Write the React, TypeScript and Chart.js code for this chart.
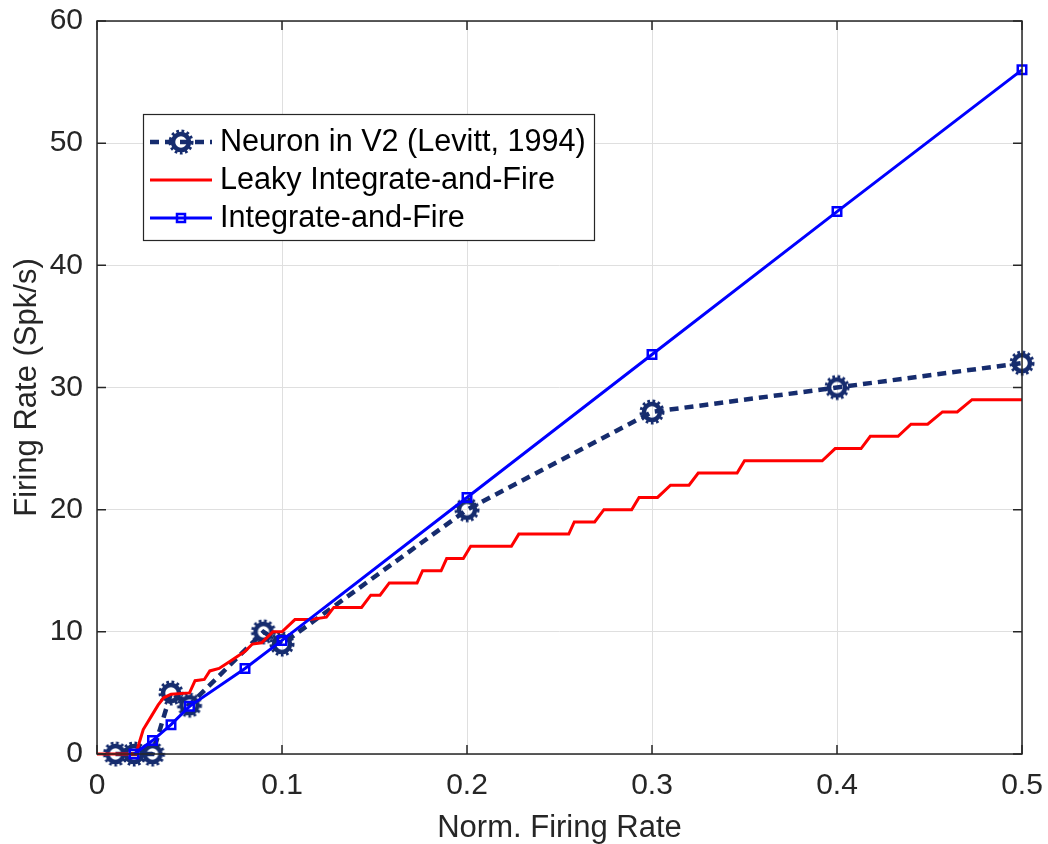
import React, { useEffect, useRef } from "react";
import { Chart, registerables } from "chart.js";

Chart.register(...registerables);

// ---- data ----
const xTickValues = [0, 0.1, 0.2, 0.3, 0.4, 0.5];
const xTickLabels = ["0", "0.1", "0.2", "0.3", "0.4", "0.5"];
const yTickValues = [0, 10, 20, 30, 40, 50, 60];
const yTickLabels = ["0", "10", "20", "30", "40", "50", "60"];
const seriesNames = ["Neuron in V2 (Levitt, 1994)", "Leaky Integrate-and-Fire", "Integrate-and-Fire"];
const xTitle = "Norm. Firing Rate";
const yTitle = "Firing Rate (Spk/s)";

const neuronX = [0.01, 0.02, 0.03, 0.04, 0.05, 0.09, 0.1, 0.2, 0.3, 0.4, 0.5];
const neuronY = [0, 0, 0, 5, 4, 10, 9, 20, 28, 30, 32];

const lifX = [0, 0.021, 0.023, 0.025, 0.029, 0.033, 0.036, 0.04, 0.05, 0.053, 0.058, 0.061, 0.066, 0.072, 0.076, 0.08, 0.084, 0.089, 0.095, 0.1, 0.107, 0.115, 0.124, 0.128, 0.143, 0.148, 0.153, 0.158, 0.173, 0.176, 0.186, 0.189, 0.198, 0.202, 0.224, 0.228, 0.255, 0.258, 0.269, 0.274, 0.289, 0.293, 0.303, 0.31, 0.32, 0.325, 0.346, 0.35, 0.392, 0.399, 0.413, 0.418, 0.433, 0.44, 0.449, 0.457, 0.465, 0.473, 0.5];
const lifY = [0, 0, 1, 2, 3, 4, 4.6, 4.9, 5, 6, 6.1, 6.8, 7, 7.6, 8, 8.4, 9, 9.1, 10, 10, 11, 11, 11.2, 12, 12, 13, 13, 14, 14, 15, 15, 16, 16, 17, 17, 18, 18, 19, 19, 20, 20, 21, 21, 22, 22, 23, 23, 24, 24, 25, 25, 26, 26, 27, 27, 28, 28, 29, 29];

const ifX = [0.02, 0.03, 0.04, 0.05, 0.08, 0.1, 0.2, 0.3, 0.4, 0.5];
const ifY = [0, 1.1, 2.4, 3.9, 7, 9.3, 21, 32.7, 44.4, 56];

// ---- styles ----
const NAVY = "rgb(22,44,110)";
const RED = "#ff0000";
const BLUE = "#0000ff";
const AXIS = "#262626";
const FONT = "'Liberation Sans', Arial, Helvetica, sans-serif";

const toPoints = (xs: number[], ys: number[]) => xs.map((x, i) => ({ x, y: ys[i] }));

function makeGear(): HTMLCanvasElement {
  const c = document.createElement("canvas");
  c.width = 32;
  c.height = 32;
  const g = c.getContext("2d")!;
  g.strokeStyle = NAVY;
  g.lineWidth = 4.5;
  g.beginPath();
  g.arc(16, 16, 8, 0, Math.PI * 2);
  g.stroke();
  g.lineWidth = 3;
  g.setLineDash([2.7, 2.5]);
  g.beginPath();
  g.arc(16, 16, 11, 0, Math.PI * 2);
  g.stroke();
  return c;
}

export default function App() {
  const ref = useRef<HTMLCanvasElement | null>(null);

  useEffect(() => {
    if (!ref.current) return;
    const gear = makeGear();

    const frame = {
      id: "frame",
      afterDraw(chart: any) {
        const ctx = chart.ctx;
        const { left, right, top, bottom } = chart.chartArea;
        const xs = chart.scales.x;
        const ys = chart.scales.y;
        ctx.save();
        ctx.strokeStyle = AXIS;
        ctx.lineWidth = 1.5;
        ctx.strokeRect(left, top, right - left, bottom - top);
        ctx.beginPath();
        const tl = 9;
        xTickValues.forEach((v) => {
          const px = xs.getPixelForValue(v);
          ctx.moveTo(px, bottom);
          ctx.lineTo(px, bottom - tl);
          ctx.moveTo(px, top);
          ctx.lineTo(px, top + tl);
        });
        yTickValues.forEach((v) => {
          const py = ys.getPixelForValue(v);
          ctx.moveTo(left, py);
          ctx.lineTo(left + tl, py);
          ctx.moveTo(right, py);
          ctx.lineTo(right - tl, py);
        });
        ctx.stroke();

        // legend
        const bx = 143.5, by = 114.5, bw = 451, bh = 126;
        ctx.fillStyle = "#ffffff";
        ctx.fillRect(bx, by, bw, bh);
        ctx.strokeStyle = AXIS;
        ctx.lineWidth = 1.2;
        ctx.strokeRect(bx, by, bw, bh);
        const rows = [142, 180, 218];
        const x0 = 150, x1 = 212, xm = 181;
        // neuron
        ctx.strokeStyle = NAVY;
        ctx.lineWidth = 4.5;
        ctx.setLineDash([9, 6]);
        ctx.beginPath();
        ctx.moveTo(x0, rows[0]);
        ctx.lineTo(x1, rows[0]);
        ctx.stroke();
        ctx.setLineDash([]);
        ctx.drawImage(gear, xm - 16, rows[0] - 16);
        // lif
        ctx.strokeStyle = RED;
        ctx.lineWidth = 3;
        ctx.beginPath();
        ctx.moveTo(x0, rows[1]);
        ctx.lineTo(x1, rows[1]);
        ctx.stroke();
        // if
        ctx.strokeStyle = BLUE;
        ctx.beginPath();
        ctx.moveTo(x0, rows[2]);
        ctx.lineTo(x1, rows[2]);
        ctx.stroke();
        ctx.lineWidth = 2.5;
        ctx.strokeRect(xm - 4, rows[2] - 4, 8, 8);

        ctx.fillStyle = "#000000";
        ctx.font = `30.6px ${FONT}`;
        ctx.textBaseline = "middle";
        ctx.textAlign = "left";
        seriesNames.forEach((n, i) => ctx.fillText(n, 220, rows[i] + 1));
        ctx.restore();
      },
    };

    const chart = new Chart(ref.current, {
      type: "line",
      data: {
        datasets: [
          {
            label: seriesNames[2],
            data: toPoints(ifX, ifY),
            borderColor: BLUE,
            borderWidth: 3,
            pointStyle: "rect",
            pointRadius: 6,
            pointBorderWidth: 2.5,
            pointBorderColor: BLUE,
            pointBackgroundColor: "rgba(0,0,0,0)",
            fill: false,
            tension: 0,
            clip: false as any,
            order: 0,
          },
          {
            label: seriesNames[1],
            data: toPoints(lifX, lifY),
            borderColor: RED,
            borderWidth: 3,
            pointRadius: 0,
            fill: false,
            tension: 0,
            clip: false as any,
            order: 1,
          },
          {
            label: seriesNames[0],
            data: toPoints(neuronX, neuronY),
            borderColor: NAVY,
            borderWidth: 4.5,
            borderDash: [9, 6],
            pointStyle: gear as any,
            pointRadius: 11,
            fill: false,
            tension: 0,
            clip: false as any,
            order: 2,
          },
        ],
      },
      options: {
        responsive: false,
        animation: false,
        events: [],
        layout: { padding: { left: 0, top: 21, right: 26, bottom: 0 } },
        plugins: { legend: { display: false }, tooltip: { enabled: false } },
        scales: {
          x: {
            type: "linear",
            min: 0,
            max: 0.5,
            afterBuildTicks: (s: any) => {
              s.ticks = xTickValues.map((v) => ({ value: v }));
            },
            afterFit: (s: any) => {
              s.height = 90;
              s.paddingLeft = 0;
              s.paddingRight = 0;
              s.paddingTop = 0;
              s.paddingBottom = 0;
            },
            ticks: {
              autoSkip: false,
              maxRotation: 0,
              padding: 14,
              color: AXIS,
              font: { family: FONT, size: 30 },
              callback: (_v: any, i: number) => xTickLabels[i],
            },
            grid: { color: "#dfdfdf", lineWidth: 1, drawTicks: false },
            border: { display: false },
            title: {
              display: true,
              text: xTitle,
              color: AXIS,
              font: { family: FONT, size: 31, lineHeight: 1.0 },
              padding: { top: 0, bottom: 0 },
            },
          },
          y: {
            type: "linear",
            min: 0,
            max: 60,
            afterBuildTicks: (s: any) => {
              s.ticks = yTickValues.map((v) => ({ value: v }));
            },
            afterFit: (s: any) => {
              s.width = 97;
              s.paddingLeft = 0;
              s.paddingRight = 0;
              s.paddingTop = 0;
              s.paddingBottom = 0;
            },
            ticks: {
              autoSkip: false,
              padding: 14,
              color: AXIS,
              font: { family: FONT, size: 30 },
              callback: (_v: any, i: number) => yTickLabels[i],
            },
            grid: { color: "#dfdfdf", lineWidth: 1, drawTicks: false },
            border: { display: false },
            title: {
              display: true,
              text: yTitle,
              color: AXIS,
              font: { family: FONT, size: 31 },
              padding: { top: 9, bottom: 0 },
            },
          },
        },
      },
      plugins: [frame],
    });

    return () => chart.destroy();
  }, []);

  return (
    <canvas
      ref={ref}
      width={1048}
      height={844}
      style={{ position: "fixed", left: 0, top: 0, width: "1048px", height: "844px", background: "#fff" }}
    />
  );
}
